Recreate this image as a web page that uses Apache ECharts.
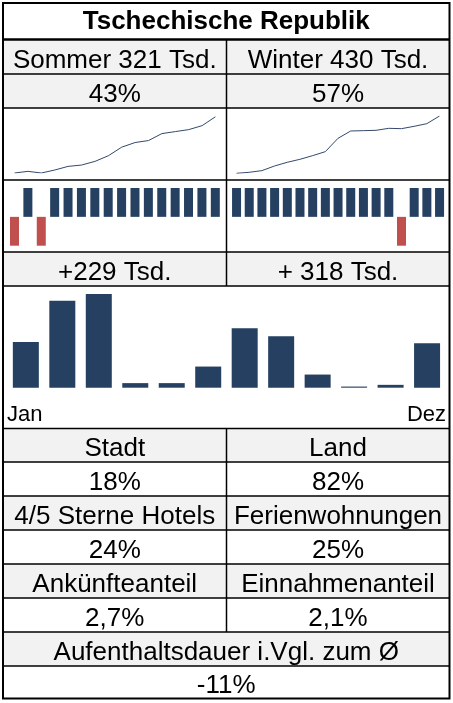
<!DOCTYPE html>
<html><head><meta charset="utf-8">
<script src="https://cdn.jsdelivr.net/npm/echarts@6/dist/echarts.min.js"></script>
<style>html,body{margin:0;padding:0;background:#fff}#c{width:453px;height:703px}</style>
</head><body><div id="c"></div>
<script>
// ---- data ----
const titleText = 'Tschechische Republik';
const seasonLabels = ['Sommer 321 Tsd.', 'Winter 430 Tsd.'];
const seasonShares = ['43%', '57%'];
const seasonGrowth = ['+229 Tsd.', '+ 318 Tsd.'];
const summerTrend = [5, 10, 5, 14, 25, 29, 40, 57, 83, 97, 103, 124, 130, 136, 148, 175];
const winterTrend = [5, 8, 13, 27, 38, 47, 58, 70, 110, 132, 133, 134, 140, 139, 146, 154, 177];
const summerChange = [-1, 1, -1, 1, 1, 1, 1, 1, 1, 1, 1, 1, 1, 1, 1, 1];
const winterChange = [1, 1, 1, 1, 1, 1, 1, 1, 1, 1, 1, 1, 1, -1, 1, 1, 1];
const months = ['Jan', 'Feb', 'Mär', 'Apr', 'Mai', 'Jun', 'Jul', 'Aug', 'Sep', 'Okt', 'Nov', 'Dez'];
const monthlyArrivals = [80, 152, 164, 8, 8, 37, 104, 90, 23, 2, 5, 78];
const locationLabels = ['Stadt', 'Land'];
const locationShares = ['18%', '82%'];
const accommodationLabels = ['4/5 Sterne Hotels', 'Ferienwohnungen'];
const accommodationShares = ['24%', '25%'];
const marketLabels = ['Ankünfteanteil', 'Einnahmenanteil'];
const marketShares = ['2,7%', '2,1%'];
const durationLabel = 'Aufenthaltsdauer i.Vgl. zum Ø';
const durationValue = '-11%';

// ---- layout ----
const L = 3, R = 449.5, MID = 226.5;
const edges = [3, 39.5, 74, 108, 180, 252, 286, 428.5, 462, 496, 530, 564, 598, 632, 666, 698.5];
const grayRows = [1, 2, 5, 7, 9, 11, 13];
const FONT = '"Liberation Sans", Arial, sans-serif';
const NAVY = '#254061', RED = '#c0504d';
const leftC = (L + MID) / 2, rightC = (MID + R) / 2, fullC = (L + R) / 2;

const g = [];
grayRows.forEach(i => g.push({type: 'rect', z: 0, shape: {x: L, y: edges[i], width: R - L, height: edges[i + 1] - edges[i]}, style: {fill: '#f2f2f2'}}));
for (let i = 1; i < edges.length - 1; i++) {
  g.push({type: 'line', z: 10, shape: {x1: L, y1: edges[i], x2: R, y2: edges[i]}, style: {stroke: '#000', lineWidth: i === 1 ? 2.5 : 1.5}});
}
g.push({type: 'line', z: 10, shape: {x1: MID, y1: edges[1], x2: MID, y2: edges[6]}, style: {stroke: '#000', lineWidth: 1.5}});
g.push({type: 'line', z: 10, shape: {x1: MID, y1: edges[7], x2: MID, y2: edges[13]}, style: {stroke: '#000', lineWidth: 1.5}});
g.push({type: 'rect', z: 11, shape: {x: L, y: edges[0], width: R - L, height: edges[15] - edges[0]}, style: {fill: 'none', stroke: '#000', lineWidth: 2}});

function txt(text, x, y, opts) {
  opts = opts || {};
  const align = opts.align || 'center';
  g.push({type: 'text', z: 12, x: x, y: y, style: {
    text: text, fill: '#000',
    font: (opts.bold ? 'bold ' : '') + (opts.size || 26) + 'px ' + FONT,
    textAlign: align, textVerticalAlign: 'middle', align: align, verticalAlign: 'middle'
  }});
}
const cy = i => edges[i + 1] - 13;
txt(titleText, fullC, 22, {bold: true});
txt(seasonLabels[0], leftC, cy(1)); txt(seasonLabels[1], rightC, cy(1));
txt(seasonShares[0], leftC, cy(2)); txt(seasonShares[1], rightC, cy(2));
txt(seasonGrowth[0], leftC, cy(5)); txt(seasonGrowth[1], rightC, cy(5));
txt(months[0], 7, 415, {align: 'left', size: 22});
txt(months[months.length - 1], 446, 415, {align: 'right', size: 22});
txt(locationLabels[0], leftC, cy(7)); txt(locationLabels[1], rightC, cy(7));
txt(locationShares[0], leftC, cy(8)); txt(locationShares[1], rightC, cy(8));
txt(accommodationLabels[0], leftC, cy(9)); txt(accommodationLabels[1], rightC, cy(9));
txt(accommodationShares[0], leftC, cy(10)); txt(accommodationShares[1], rightC, cy(10));
txt(marketLabels[0], leftC, cy(11)); txt(marketLabels[1], rightC, cy(11));
txt(marketShares[0], leftC, cy(12)); txt(marketShares[1], rightC, cy(12));
txt(durationLabel, fullC, cy(13));
txt(durationValue, fullC, cy(14));

const idx = a => a.map((_, i) => i);
const hiddenX = (data, gap, gi) => ({type: 'category', gridIndex: gi, data: data, boundaryGap: gap, show: false});
const hiddenY = (gi, min, max) => ({type: 'value', gridIndex: gi, min: min, max: max, show: false});
const signColor = p => p.value < 0 ? RED : NAVY;

const option = {
  animation: false,
  graphic: {elements: g},
  grid: [
    {left: 14.5, top: 116.7, width: 201, height: 56.3},
    {left: 236.5, top: 116, width: 203, height: 57.3},
    {left: 7.8, top: 188, width: 214.2, height: 57.7},
    {left: 230.2, top: 188, width: 215.7, height: 57.7},
    {left: 7.6, top: 294, width: 437.7, height: 93.7}
  ],
  xAxis: [
    hiddenX(idx(summerTrend), false, 0),
    hiddenX(idx(winterTrend), false, 1),
    hiddenX(idx(summerChange), true, 2),
    hiddenX(idx(winterChange), true, 3),
    hiddenX(months, true, 4)
  ],
  yAxis: [
    hiddenY(0, Math.min(...summerTrend), Math.max(...summerTrend)),
    hiddenY(1, Math.min(...winterTrend), Math.max(...winterTrend)),
    hiddenY(2, -1, 1),
    hiddenY(3, -1, 1),
    hiddenY(4, 0, Math.max(...monthlyArrivals))
  ],
  series: [
    {type: 'line', xAxisIndex: 0, yAxisIndex: 0, data: summerTrend, showSymbol: false, lineStyle: {color: '#34496a', width: 1}},
    {type: 'line', xAxisIndex: 1, yAxisIndex: 1, data: winterTrend, showSymbol: false, lineStyle: {color: '#34496a', width: 1}},
    {type: 'bar', xAxisIndex: 2, yAxisIndex: 2, data: summerChange, barWidth: 9, itemStyle: {color: signColor}},
    {type: 'bar', xAxisIndex: 3, yAxisIndex: 3, data: winterChange, barWidth: 9, itemStyle: {color: signColor}},
    {type: 'bar', xAxisIndex: 4, yAxisIndex: 4, data: monthlyArrivals, barWidth: 26, itemStyle: {color: NAVY}}
  ]
};
const chart = echarts.init(document.getElementById('c'), null, {renderer: 'canvas'});
chart.setOption(option);
</script></body></html>
